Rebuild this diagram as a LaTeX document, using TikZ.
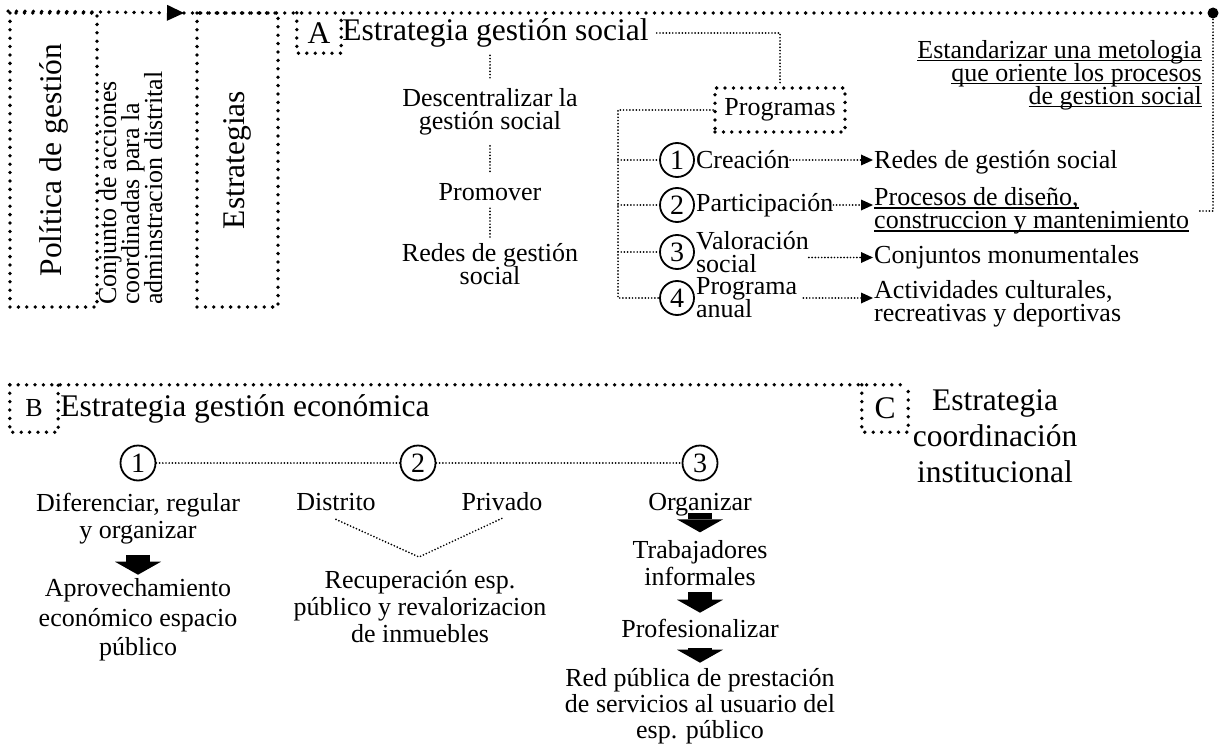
\documentclass[tikz,border=0pt]{standalone}
\usepackage{fontspec}
\setmainfont{Liberation Serif}
\usetikzlibrary{arrows.meta, positioning, calc}

\newcommand\fnttitle{\fontsize{31.5}{36}\selectfont\lineskiplimit=-40pt}
\newcommand\fntbody{\fontsize{26}{23}\selectfont\lineskiplimit=-40pt}
\newcommand\fntlow{\fontsize{26}{27}\selectfont\lineskiplimit=-40pt}
\newcommand\fntnum{\fontsize{28}{28}\selectfont}
\newcommand\ulin[1]{\setbox0=\hbox{#1}\rlap{\rule[-3pt]{\wd0}{1.3pt}}\box0}

\begin{document}
\begin{tikzpicture}[x=1pt, y=-1pt,
    dotframe/.style={line width=3.8pt, line cap=round, dash pattern=on 0pt off 8.4pt},
    dotlink/.style={line width=1.9pt, line cap=round, dash pattern=on 0pt off 3.2pt},
    dotarrow/.style={dotlink, -{Triangle[length=12pt, width=11pt, line width=0pt]}, shorten >=1pt},
    bigarrow/.style={line width=24pt, -{Triangle[length=13pt, width=46pt, line width=0pt]}},
    bodytxt/.style={font=\fntbody, inner sep=0pt, align=center},
    lowtxt/.style={font=\fntlow, inner sep=0pt, align=center},
    headtxt/.style={font=\fnttitle, inner sep=0pt},
    numcircle/.style={circle, draw, line width=1.8pt, minimum size=34pt, inner sep=0pt, font=\fntnum},
    letterbox/.style={inner sep=0pt, minimum width=44pt, minimum height=40pt, font=\fnttitle}]

    \useasboundingbox (0,0) rectangle (1222,746);

    % Nodes
    \node[dotframe, draw, rotate=90, minimum width=294pt, minimum height=87pt, inner sep=0pt, font=\fnttitle] (pol) at (53.5,160) {Política de gestión};
    \node[rotate=90, anchor=north west, align=left, inner sep=0pt, font=\fntbody] (conj) at (98,305) {Conjunto de acciones\\coordinadas para la\\adminstracion distrital};
    \node[dotframe, draw, rotate=90, minimum width=294pt, minimum height=81pt, inner sep=0pt, font=\fnttitle] (estr) at (237.5,160) {Estrategias};
    \coordinate (tip) at (184,13);
    \coordinate (topend) at (1213,13);

    \node[letterbox] (boxA) at (319,33) {A};
    \node[headtxt, right=1pt of boxA] (titA) {Estrategia gestión social};
    \node[bodytxt] (desc) at (490,111.5) {Descentralizar la\\gestión social};
    \node[bodytxt] (prom) at (490,192) {Promover};
    \node[bodytxt] (redes) at (490,264) {Redes de gestión\\social};
    \node[dotframe, draw, minimum width=130pt, minimum height=44pt, inner sep=0pt, font=\fntbody] (prog) at (780,110) {Programas};
    \coordinate (spine) at (618,110);
    \node[numcircle] (n1) at (677,160) {1};
    \node[numcircle] (n2) at (677,205) {2};
    \node[numcircle] (n3) at (677,252) {3};
    \node[numcircle] (n4) at (677,298) {4};
    \node[bodytxt, right=1pt of n1] (c1) {Creación};
    \node[bodytxt, right=1pt of n2] (c2) {Participación};
    \node[bodytxt, align=left, right=1pt of n3] (c3) {Valoración\\social};
    \node[bodytxt, align=left, right=1pt of n4] (c4) {Programa\\anual};
    \node[bodytxt, anchor=west] (r1) at (874,162.5) {Redes de gestión social};
    \node[bodytxt, align=left, anchor=west] (r2) at (874,211) {\ulin{Procesos de diseño,}\\\ulin{construccion y mantenimiento}};
    \node[bodytxt, anchor=west] (r3) at (874,257.5) {Conjuntos monumentales};
    \node[bodytxt, align=left, anchor=west] (r4) at (874,303.5) {Actividades culturales,\\recreativas y deportivas};
    \node[bodytxt, align=right, anchor=east] (estd) at (1202,75) {\ulin{Estandarizar una metologia}\\\ulin{que oriente los procesos}\\\ulin{de gestion social}};

    \node[letterbox, minimum width=48pt, minimum height=47pt, font=\fntbody] (boxB) at (34,408.5) {B};
    \node[headtxt, right=2pt of boxB] (titB) {Estrategia gestión económica};
    \node[letterbox, minimum width=46pt, minimum height=47pt] (boxC) at (885,408.5) {C};
    \node[headtxt, align=center] (titC) at (995,436) {Estrategia\\coordinación\\institucional};

    \node[numcircle, minimum size=35pt] (m1) at (138,463) {1};
    \node[numcircle, minimum size=35pt] (m2) at (418,463) {2};
    \node[numcircle, minimum size=35pt] (m3) at (700,463) {3};
    \node[lowtxt] (d1) at (138,518.5) {Diferenciar, regular\\y organizar};
    \node[lowtxt, font={\fontsize{26}{29.5}\selectfont\lineskiplimit=-40pt}] (ap1) at (138,620) {Aprovechamiento\\económico espacio\\público};
    \node[lowtxt] (dist) at (336,502) {Distrito};
    \node[lowtxt] (priv) at (502,502) {Privado};
    \coordinate (vtip) at (419,557);
    \node[lowtxt] (rec) at (420,606.5) {Recuperación esp.\\público y revalorizacion\\de inmuebles};
    \node[lowtxt] (org) at (700,504.5) {Organizar};
    \node[lowtxt] (trab) at (700,563) {Trabajadores\\informales};
    \node[lowtxt] (prof) at (700,628) {Profesionalizar};
    \node[lowtxt, font={\fontsize{26}{26}\selectfont\lineskiplimit=-40pt}] (redp) at (700,706.5) {Red pública de prestación\\de servicios al usuario del\\esp. público};

    % Arrows
    \draw[dotframe, -{Triangle[length=17pt, width=16pt, line width=0pt]}] (pol.north east) -- (tip);
    \draw[dotframe, -{Circle[length=11pt, line width=0pt]}] (tip) -- ([xshift=5.5pt]topend);
    \draw[dotlink] (topend) |- ([xshift=8pt]r2.east);
    \draw[dotframe] (boxA.north west) |- (boxA.south east) -- (boxA.north east);
    \draw[dotlink, shorten >=3pt] ([xshift=8pt]titA.east) -| (prog.north);
    \draw[dotlink, shorten <=7.8pt, shorten >=8.8pt] (titA.south -| desc.north) -- (desc.north);
    \draw[dotlink, shorten <=10.8pt, shorten >=10.4pt] (desc) -- (prom);
    \draw[dotlink, shorten <=7.4pt, shorten >=5.8pt] (prom) -- (redes);
    \draw[dotlink] (prog.west) -- (spine) |- (n4.west);
    \foreach \k in {1,2,3} \draw[dotlink] (spine |- n\k.west) -- (n\k.west);
    \draw[dotarrow] (c1.east) -- (c1.east -| r1.west);
    \draw[dotarrow] (c2.east) -- (c2.east -| r2.west);
    \draw[dotarrow] (c3.east |- r3.west) -- (r3.west);
    \draw[dotarrow, shorten <=6pt] (c4.east |- n4) -- (n4 -| r4.west);

    \draw[dotframe] (boxB.north west) -- (boxC.north east);
    \draw[dotframe] (boxB.north west) |- (boxB.south east) -- (boxB.north east);
    \draw[dotframe] (boxC.north west) |- (boxC.south east) -- (boxC.north east);
    \draw[dotlink] (m1) -- (m2) -- (m3);
    \draw[dotlink] ([yshift=-8.5pt]dist.south) -- (vtip) -- ([yshift=-7pt]priv.south);
    \draw[bigarrow, shorten <=10.8pt, shorten >=3.8pt] (d1) -- (ap1);
    \draw[bigarrow, shorten <=-3.2pt, shorten >=7.8pt] (org) -- (trab);
    \draw[bigarrow, shorten <=6.4pt, shorten >=5.8pt] (trab) -- (prof);
    \draw[bigarrow, shorten <=10.4pt, shorten >=5.8pt] (prof) -- (redp);

\end{tikzpicture}
\end{document}
